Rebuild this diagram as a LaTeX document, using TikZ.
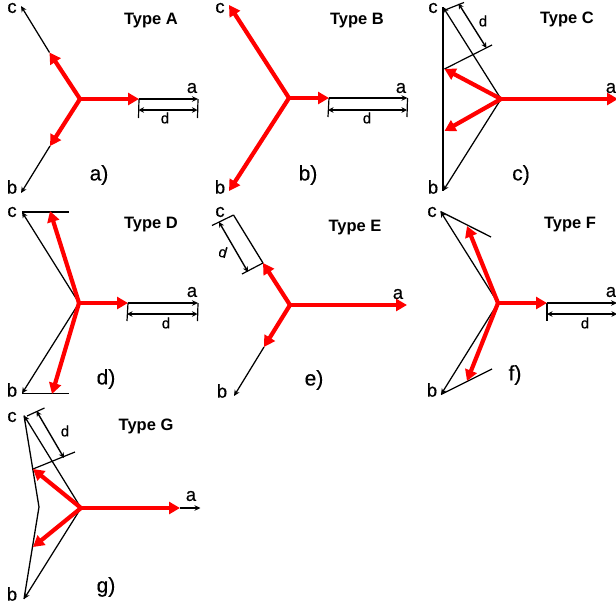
\documentclass[tikz,border=0pt]{standalone}
\usepackage{fontspec}
\setmainfont{Liberation Sans}
\newfontfamily\heavy[FakeBold=0.35]{Liberation Sans}
\usetikzlibrary{arrows.meta}
\tikzset{
  redarrow/.style={draw=red,line width=4.2pt,-{Triangle[length=11pt,width=12pt]},shorten <=-1pt},
  blackarrow/.style={draw=black,line width=1.25pt,-{Stealth[length=6pt,width=5.5pt]}},
  plainline/.style={draw=black,line width=1.3pt},
  thickline/.style={draw=black,line width=1.8pt},
  dimline/.style={draw=black,line width=1.4pt,{Stealth[length=5.5pt,width=5.5pt]}-{Stealth[length=5.5pt,width=5.5pt]}},
  ticks/.style={draw=black,line width=1.2pt},
  phase/.style={inner sep=0pt,font=\heavy\fontsize{18.5}{18.5}\selectfont},
  dlabel/.style={inner sep=0pt,font=\heavy\fontsize{15}{15}\selectfont},
  panel/.style={inner sep=0pt,font=\heavy\fontsize{21}{21}\selectfont},
  title/.style={inner sep=0pt,font=\fontsize{16.5}{16.5}\selectfont\bfseries},
}
\begin{document}
\begin{tikzpicture}[x=1pt,y=-1pt]
\useasboundingbox (0,0) rectangle (616,606);
% --- Panel A
\coordinate (Ao) at (80,99);
\coordinate (Ara) at (139,99); \coordinate (Arc) at (49.5,52.5); \coordinate (Arb) at (50,146);
\coordinate (Aa) at (198,99); \coordinate (Ac) at (21,6); \coordinate (Ab) at (21,193);
\coordinate (Ad1) at (138.5,110); \coordinate (Ad2) at (197.5,110);
\coordinate (Ad1e) at (138.5,118); \coordinate (Ad2e) at (197.5,118);
\draw[blackarrow] (Ara) -- (Aa);
\draw[blackarrow] (Arc) -- (Ac);
\draw[blackarrow] (Arb) -- (Ab);
\draw[ticks] (Ara) -- (Ad1e);
\draw[ticks] (Aa) -- (Ad2e);
\draw[dimline] (Ad1) -- (Ad2);
\draw[redarrow] (Ao) -- (Ara);
\draw[redarrow] (Ao) -- (Arc);
\draw[redarrow] (Ao) -- (Arb);
\node[phase] (Ala) at (192,88) {a};
\node[phase] (Alc) at (12,8) {c};
\node[phase] (Alb) at (12,187) {b};
\node[dlabel] (Ald) at (165,118) {d};
\node[panel] (Alp) at (99,175) {a)};
\node[title] (Alt) at (151,20.5) {Type A};
% --- Panel B
\coordinate (Bo) at (289,98);
\coordinate (Bra) at (329,98); \coordinate (Brc) at (229,5); \coordinate (Brb) at (229,191);
\coordinate (Ba) at (407.5,98);
\coordinate (Bd1) at (328,110); \coordinate (Bd2) at (407,110);
\coordinate (Bd1e) at (328,117); \coordinate (Bd2e) at (407,117);
\draw[blackarrow] (Bra) -- (Ba);
\draw[ticks] (Bra) -- (Bd1e);
\draw[ticks] (Ba) -- (Bd2e);
\draw[dimline] (Bd1) -- (Bd2);
\draw[redarrow] (Bo) -- (Bra);
\draw[redarrow] (Bo) -- (Brc);
\draw[redarrow] (Bo) -- (Brb);
\node[phase] (Bla) at (401,88) {a};
\node[phase] (Blc) at (220,8) {c};
\node[phase] (Blb) at (220,187) {b};
\node[dlabel] (Bld) at (367,118) {d};
\node[panel] (Blp) at (308,175) {b)};
\node[title] (Blt) at (357,20.5) {Type B};
% --- Panel C
\coordinate (Co) at (501,99);
\coordinate (Cra) at (618,99); \coordinate (Crc) at (444.5,69); \coordinate (Crb) at (444.5,131);
\coordinate (Cc) at (443,7); \coordinate (Cb) at (443,191);
\coordinate (Ct1) at (445,10); \coordinate (Ct2) at (464,2.5); \coordinate (Ct3) at (492,45);
\coordinate (Cd1) at (458.5,3.5); \coordinate (Cd2) at (486.5,48);
\draw[thickline] (Cc) -- (Cb);
\draw[blackarrow] (Co) -- (Cc);
\draw[blackarrow] (Co) -- (Cb);
\draw[ticks] (Ct1) -- (Ct2);
\draw[ticks] (Crc) -- (Ct3);
\draw[dimline] (Cd1) -- (Cd2);
\draw[redarrow] (Co) -- (Cra);
\draw[redarrow] (Co) -- (Crc);
\draw[redarrow] (Co) -- (Crb);
\node[phase] (Cla) at (611,88) {a};
\node[phase] (Clc) at (433,8) {c};
\node[phase] (Clb) at (433,187) {b};
\node[dlabel] (Cld) at (483,21) {d};
\node[panel] (Clp) at (521,175) {c)};
\node[title] (Clt) at (567,19.5) {Type C};
% --- Panel D
\coordinate (Do) at (79,303);
\coordinate (Dra) at (128,303); \coordinate (Drc) at (50,211); \coordinate (Drb) at (52,394);
\coordinate (Da) at (198,303); \coordinate (Dc) at (22,212); \coordinate (Db) at (22,393.5);
\coordinate (Dce) at (69,212); \coordinate (Dbe) at (69,393.5);
\coordinate (Dd1) at (127,314); \coordinate (Dd2) at (197.5,314);
\coordinate (Dd1e) at (127,321); \coordinate (Dd2e) at (197.5,321);
\draw[blackarrow] (Dra) -- (Da);
\draw[blackarrow] (Do) -- (Dc);
\draw[blackarrow] (Do) -- (Db);
\draw[plainline] (Dc) -- (Dce);
\draw[plainline] (Db) -- (Dbe);
\draw[ticks] (Dra) -- (Dd1e);
\draw[ticks] (Da) -- (Dd2e);
\draw[dimline] (Dd1) -- (Dd2);
\draw[redarrow] (Do) -- (Dra);
\draw[redarrow] (Do) -- (Drc);
\draw[redarrow] (Do) -- (Drb);
\node[phase] (Dla) at (192,292) {a};
\node[phase] (Dlc) at (12,212) {c};
\node[phase] (Dlb) at (12,390) {b};
\node[dlabel] (Dld) at (166,323) {d};
\node[panel] (Dlp) at (106,379) {d)};
\node[title] (Dlt) at (151,224.5) {Type D};
% --- Panel E
\coordinate (Eo) at (290,305);
\coordinate (Era) at (407,305); \coordinate (Erc) at (263,263); \coordinate (Erb) at (264,347);
\coordinate (Ec) at (233.5,215); \coordinate (Eb) at (234,396);
\coordinate (Et1) at (212,225.5); \coordinate (Et2) at (242,274);
\coordinate (Ed1) at (219,222); \coordinate (Ed2) at (248,272);
\draw[plainline] (Erc) -- (Ec);
\draw[blackarrow] (Erb) -- (Eb);
\draw[ticks] (Et1) -- (Ec);
\draw[ticks] (Et2) -- (Erc);
\draw[dimline] (Ed1) -- (Ed2);
\draw[redarrow] (Eo) -- (Era);
\draw[redarrow] (Eo) -- (Erc);
\draw[redarrow] (Eo) -- (Erb);
\node[phase] (Ela) at (398,294) {a};
\node[phase] (Elc) at (220,212) {c};
\node[phase] (Elb) at (222,391) {b};
\node[dlabel,rotate=-15] (Eld) at (223,252) {d};
\node[panel] (Elp) at (314,380) {e)};
\node[title] (Elt) at (355,227.5) {Type E};
% --- Panel F
\coordinate (Fo) at (498,303);
\coordinate (Fra) at (547,303); \coordinate (Frc) at (467,226); \coordinate (Frb) at (467,381);
\coordinate (Fa) at (617,303); \coordinate (Fc) at (440.5,211.5); \coordinate (Fb) at (441,394.5);
\coordinate (Fce) at (491,237); \coordinate (Fbe) at (492,369);
\coordinate (Fd1) at (547,314); \coordinate (Fd2) at (617,314);
\coordinate (Fd1e) at (547,321);
\draw[blackarrow] (Fra) -- (Fa);
\draw[blackarrow] (Fo) -- (Fc);
\draw[blackarrow] (Fo) -- (Fb);
\draw[plainline] (Fc) -- (Fce);
\draw[plainline] (Fb) -- (Fbe);
\draw[ticks] (Fra) -- (Fd1e);
\draw[dimline] (Fd1) -- (Fd2);
\draw[redarrow] (Fo) -- (Fra);
\draw[redarrow] (Fo) -- (Frc);
\draw[redarrow] (Fo) -- (Frb);
\node[phase] (Fla) at (611,292) {a};
\node[phase] (Flc) at (432,212) {c};
\node[phase] (Flb) at (432,390) {b};
\node[dlabel] (Fld) at (585,323) {d};
\node[panel] (Flp) at (515,375) {f)};
\node[title] (Flt) at (570,224.5) {Type F};
% --- Panel G
\coordinate (Go) at (81,508);
\coordinate (Gra) at (180,508); \coordinate (Grc) at (33,469); \coordinate (Grb) at (33,547);
\coordinate (Ga) at (200.5,508); \coordinate (Gc) at (24,415.5); \coordinate (Gb) at (24,599);
\coordinate (Gm) at (39,507);
\coordinate (Gt1) at (27,416); \coordinate (Gt2) at (44.5,408); \coordinate (Gt3) at (75,452);
\coordinate (Gd1) at (36.5,411); \coordinate (Gd2) at (64,458);
\draw[blackarrow] (Gra) -- (Ga);
\draw[blackarrow] (Go) -- (Gc);
\draw[blackarrow] (Go) -- (Gb);
\draw[plainline] (Gc) -- (Gm) -- (Gb);
\draw[ticks] (Gt1) -- (Gt2);
\draw[ticks] (Grc) -- (Gt3);
\draw[dimline] (Gd1) -- (Gd2);
\draw[redarrow] (Go) -- (Gra);
\draw[redarrow] (Go) -- (Grc);
\draw[redarrow] (Go) -- (Grb);
\node[phase] (Gla) at (191,496) {a};
\node[phase] (Glc) at (12,417) {c};
\node[phase] (Glb) at (12,594) {b};
\node[dlabel] (Gld) at (65,431) {d};
\node[panel] (Glp) at (106,587) {g)};
\node[title] (Glt) at (146,426.5) {Type G};
\end{tikzpicture}
\end{document}
